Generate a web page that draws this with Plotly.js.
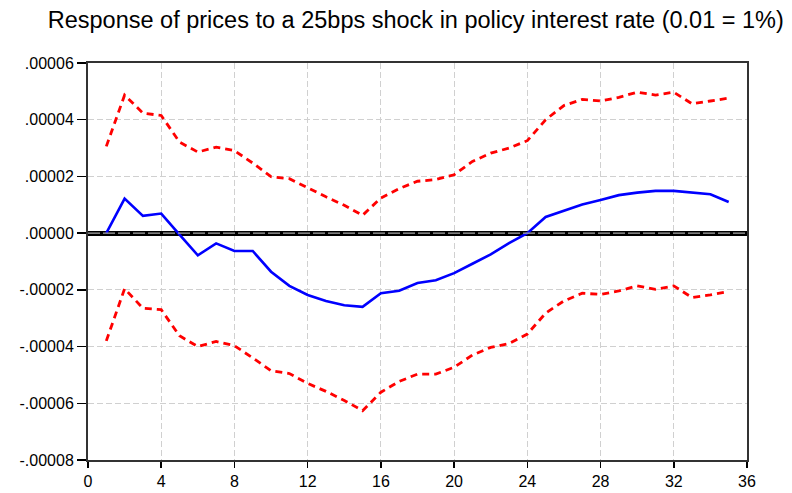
<!DOCTYPE html>
<html><head><meta charset="utf-8">
<script src="https://cdn.plot.ly/plotly-3.0.1.min.js"></script>
<style>html,body{margin:0;padding:0;background:#fff}#chart{width:792px;height:493px}</style>
</head><body><div id="chart"></div>
<script>
const periods = [1,2,3,4,5,6,7,8,9,10,11,12,13,14,15,16,17,18,19,20,21,22,23,24,25,26,27,28,29,30,31,32,33,34,35];
const response = [0.0,1.22,0.61,0.69,-0.05,-0.78,-0.36,-0.63,-0.63,-1.36,-1.86,-2.18,-2.39,-2.54,-2.60,-2.12,-2.03,-1.76,-1.66,-1.41,-1.08,-0.75,-0.35,0.0,0.57,0.80,1.01,1.17,1.34,1.43,1.49,1.49,1.43,1.37,1.10].map(v=>v*1e-5);
const upperBand = [3.06,4.87,4.23,4.15,3.21,2.86,3.03,2.91,2.47,1.99,1.92,1.59,1.28,0.98,0.63,1.24,1.57,1.83,1.89,2.06,2.53,2.82,3.00,3.26,4.00,4.50,4.72,4.66,4.79,4.97,4.87,4.97,4.56,4.66,4.76].map(v=>v*1e-5);
const lowerBand = [-3.80,-1.96,-2.65,-2.70,-3.62,-4.00,-3.82,-3.97,-4.40,-4.85,-4.95,-5.30,-5.58,-5.90,-6.26,-5.61,-5.23,-4.97,-4.97,-4.73,-4.30,-4.03,-3.89,-3.56,-2.82,-2.39,-2.12,-2.16,-2.04,-1.86,-1.98,-1.86,-2.27,-2.18,-2.06].map(v=>v*1e-5);
const yTickVals = [0.00006,0.00004,0.00002,0,-0.00002,-0.00004,-0.00006,-0.00008];
const yTickText = [".00006",".00004",".00002",".00000","-.00002","-.00004","-.00006","-.00008"];
const xTickVals = [0,4,8,12,16,20,24,28,32,36];

const traces = [
  {x: periods, y: upperBand, mode:'lines', line:{color:'#ff0000', width:2.8, dash:'7px,5px'}, hoverinfo:'skip'},
  {x: periods, y: lowerBand, mode:'lines', line:{color:'#ff0000', width:2.8, dash:'7px,5px'}, hoverinfo:'skip'},
  {x: periods, y: response, mode:'lines', line:{color:'#0000ff', width:2.6}, hoverinfo:'skip'}
];
const layout = {
  width:792, height:493,
  margin:{l:88, r:45, t:63, b:33},
  paper_bgcolor:'#fff', plot_bgcolor:'#fff',
  showlegend:false,
  font:{family:'"Liberation Sans", Arial, sans-serif', color:'#000', size:16},
  title:{text:'Response of prices to a 25bps shock in policy interest rate (0.01 = 1%)', font:{size:23.5, color:'#000'}, x:0.525, xanchor:'center', y:0.96, yanchor:'middle'},
  xaxis:{range:[0,36], tickvals:xTickVals, ticks:'outside', ticklen:6, tickcolor:'#000', tickwidth:1.5,
    showgrid:true, gridcolor:'#d0d0d0', griddash:'6px,3px', gridwidth:1.2, zeroline:false,
    showline:true, linecolor:'#333', linewidth:2, mirror:true, tickfont:{size:16}},
  yaxis:{range:[-0.00008,0.00006], tickvals:yTickVals, ticktext:yTickText, ticks:'outside', ticklen:9, tickcolor:'#000', tickwidth:1.5,
    showgrid:true, gridcolor:'#d0d0d0', griddash:'6px,3px', gridwidth:1.2,
    zeroline:true, zerolinecolor:'#000', zerolinewidth:5,
    showline:true, linecolor:'#333', linewidth:2, mirror:true, tickfont:{size:16}},
  shapes:[{type:'line', xref:'paper', x0:0, x1:1, yref:'y', y0:0, y1:0, line:{color:'#aaaaaa', width:1.2, dash:'12px,3px'}, layer:'above'}]
};
Plotly.newPlot('chart', traces, layout, {staticPlot:true});
</script></body></html>
